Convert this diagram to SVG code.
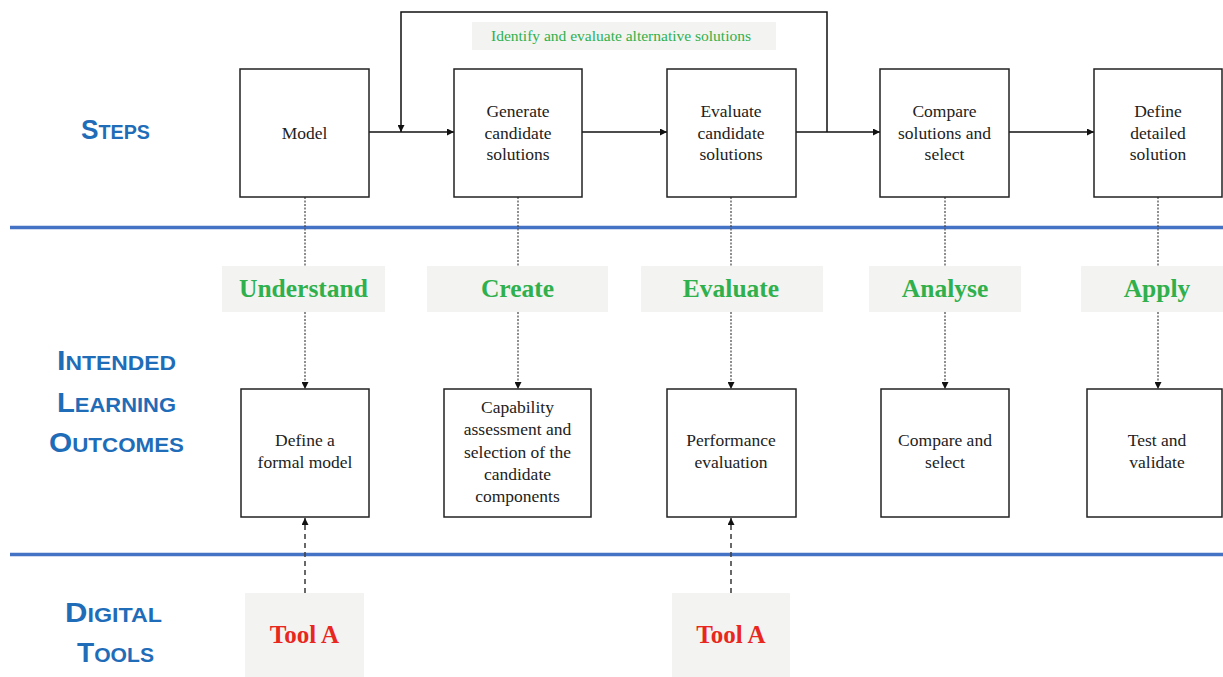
<svg xmlns="http://www.w3.org/2000/svg" width="1223" height="677" viewBox="0 0 1223 677">
<style>
.box{fill:#fff;stroke:#222;stroke-width:1.5}
.bt{font-family:"Liberation Serif",serif;font-size:17.5px;fill:#222;text-anchor:middle}
.lbl{fill:#f3f3f1}
.gr{font-family:"Liberation Serif",serif;font-weight:bold;font-size:25.5px;fill:#2fb04c;text-anchor:middle}
.rd{font-family:"Liberation Serif",serif;font-weight:bold;font-size:25px;fill:#e8281e;text-anchor:middle}
.sec{font-family:"Liberation Sans",sans-serif;font-weight:bold;fill:#1f6cb8;text-anchor:middle}
.big{font-size:28px}
.sm{font-size:21px}
.conn{fill:none;stroke:#111;stroke-width:1.5}
.dot{fill:none;stroke:#444;stroke-width:1.2;stroke-dasharray:2 1.5}
.dash{fill:none;stroke:#444;stroke-width:1.6;stroke-dasharray:5 4}
.rule{stroke:#4472c4;stroke-width:3.5}
</style>
<defs>
<marker id="ah" viewBox="0 0 10 10" refX="10" refY="5" markerWidth="7" markerHeight="7" markerUnits="userSpaceOnUse" orient="auto"><path d="M0,0 L10,5 L0,10 z" fill="#111"/></marker>
</defs>
<rect width="1223" height="677" fill="#fff"/>

<g id="rules">
<line class="rule" x1="10" y1="227.5" x2="1223" y2="227.5"/>
<line class="rule" x1="10" y1="554.5" x2="1223" y2="554.5"/>
</g>

<g id="section-labels">
<text class="sec" x="115.5" y="139" textLength="69" lengthAdjust="spacingAndGlyphs"><tspan class="big">S</tspan><tspan class="sm">TEPS</tspan></text>
<text class="sec" x="116.5" y="370" textLength="119" lengthAdjust="spacingAndGlyphs"><tspan class="big">I</tspan><tspan class="sm">NTENDED</tspan></text>
<text class="sec" x="116.5" y="412" textLength="119" lengthAdjust="spacingAndGlyphs"><tspan class="big">L</tspan><tspan class="sm">EARNING</tspan></text>
<text class="sec" x="116.5" y="452" textLength="135" lengthAdjust="spacingAndGlyphs"><tspan class="big">O</tspan><tspan class="sm">UTCOMES</tspan></text>
<text class="sec" x="113.5" y="622" textLength="97" lengthAdjust="spacingAndGlyphs"><tspan class="big">D</tspan><tspan class="sm">IGITAL</tspan></text>
<text class="sec" x="115.5" y="662" textLength="77" lengthAdjust="spacingAndGlyphs"><tspan class="big">T</tspan><tspan class="sm">OOLS</tspan></text>
</g>

<g id="connectors">
<line class="conn" x1="369" y1="132" x2="454" y2="132" marker-end="url(#ah)"/>
<line class="conn" x1="582" y1="132" x2="667" y2="132" marker-end="url(#ah)"/>
<line class="conn" x1="796" y1="132" x2="880" y2="132" marker-end="url(#ah)"/>
<line class="conn" x1="1009" y1="132" x2="1094" y2="132" marker-end="url(#ah)"/>
<polyline class="conn" points="827,132 827,12 401,12 401,132" marker-end="url(#ah)"/>
<line class="dot" x1="305" y1="197" x2="305" y2="266"/>
<line class="dot" x1="518" y1="197" x2="518" y2="266"/>
<line class="dot" x1="731" y1="197" x2="731" y2="266"/>
<line class="dot" x1="945" y1="197" x2="945" y2="266"/>
<line class="dot" x1="1158" y1="197" x2="1158" y2="266"/>
<line class="dot" x1="305" y1="312" x2="305" y2="389" marker-end="url(#ah)"/>
<line class="dot" x1="518" y1="312" x2="518" y2="389" marker-end="url(#ah)"/>
<line class="dot" x1="731" y1="312" x2="731" y2="389" marker-end="url(#ah)"/>
<line class="dot" x1="945" y1="312" x2="945" y2="389" marker-end="url(#ah)"/>
<line class="dot" x1="1158" y1="312" x2="1158" y2="389" marker-end="url(#ah)"/>
<line class="dash" x1="305" y1="593" x2="305" y2="518" marker-end="url(#ah)"/>
<line class="dash" x1="731" y1="593" x2="731" y2="518" marker-end="url(#ah)"/>
</g>

<g id="feedback-label">
<rect class="lbl" x="472" y="22" width="304" height="28"/>
<text x="621" y="41" style="font-family:'Liberation Serif',serif;font-size:15.5px;fill:#2fb04c;text-anchor:middle">Identify and evaluate alternative solutions</text>
</g>

<g id="step-model"><rect class="box" x="240" y="69" width="129" height="128"/>
<text class="bt" x="304.5" y="139">Model</text></g>
<g id="step-generate"><rect class="box" x="454" y="69" width="128" height="128"/>
<text class="bt" x="518" y="117">Generate</text><text class="bt" x="518" y="138.5">candidate</text><text class="bt" x="518" y="160">solutions</text></g>
<g id="step-evaluate"><rect class="box" x="667" y="69" width="129" height="128"/>
<text class="bt" x="731" y="117">Evaluate</text><text class="bt" x="731" y="138.5">candidate</text><text class="bt" x="731" y="160">solutions</text></g>
<g id="step-compare"><rect class="box" x="880" y="69" width="129" height="128"/>
<text class="bt" x="944.5" y="117">Compare</text><text class="bt" x="944.5" y="138.5">solutions and</text><text class="bt" x="944.5" y="160">select</text></g>
<g id="step-define"><rect class="box" x="1094" y="69" width="128" height="128"/>
<text class="bt" x="1158" y="117">Define</text><text class="bt" x="1158" y="138.5">detailed</text><text class="bt" x="1158" y="160">solution</text></g>

<g id="ilo-understand"><rect class="lbl" x="222" y="266" width="163" height="46"/><text class="gr" x="303.5" y="297">Understand</text></g>
<g id="ilo-create"><rect class="lbl" x="427" y="266" width="181" height="46"/><text class="gr" x="517.5" y="297">Create</text></g>
<g id="ilo-evaluate"><rect class="lbl" x="641" y="266" width="182" height="46"/><text class="gr" x="731" y="297">Evaluate</text></g>
<g id="ilo-analyse"><rect class="lbl" x="869" y="266" width="152" height="46"/><text class="gr" x="945" y="297">Analyse</text></g>
<g id="ilo-apply"><rect class="lbl" x="1081" y="266" width="142" height="46"/><text class="gr" x="1157" y="297">Apply</text></g>

<g id="out-define"><rect class="box" x="241" y="389" width="128" height="128"/>
<text class="bt" x="305" y="446">Define a</text><text class="bt" x="305" y="468">formal model</text></g>
<g id="out-capability"><rect class="box" x="444" y="389" width="147" height="128"/>
<text class="bt" x="517.5" y="413">Capability</text><text class="bt" x="517.5" y="435">assessment and</text><text class="bt" x="517.5" y="457.5">selection of the</text><text class="bt" x="517.5" y="480">candidate</text><text class="bt" x="517.5" y="502">components</text></g>
<g id="out-performance"><rect class="box" x="667" y="389" width="129" height="128"/>
<text class="bt" x="731" y="446">Performance</text><text class="bt" x="731" y="468">evaluation</text></g>
<g id="out-compare"><rect class="box" x="881" y="389" width="128" height="128"/>
<text class="bt" x="945" y="446">Compare and</text><text class="bt" x="945" y="468">select</text></g>
<g id="out-test"><rect class="box" x="1087" y="389" width="135" height="128"/>
<text class="bt" x="1157" y="446">Test and</text><text class="bt" x="1157" y="468">validate</text></g>

<g id="tool-a-1"><rect class="lbl" x="245" y="593" width="119" height="84"/><text class="rd" x="304.5" y="643">Tool A</text></g>
<g id="tool-a-2"><rect class="lbl" x="672" y="593" width="118" height="84"/><text class="rd" x="731" y="643">Tool A</text></g>
</svg>
